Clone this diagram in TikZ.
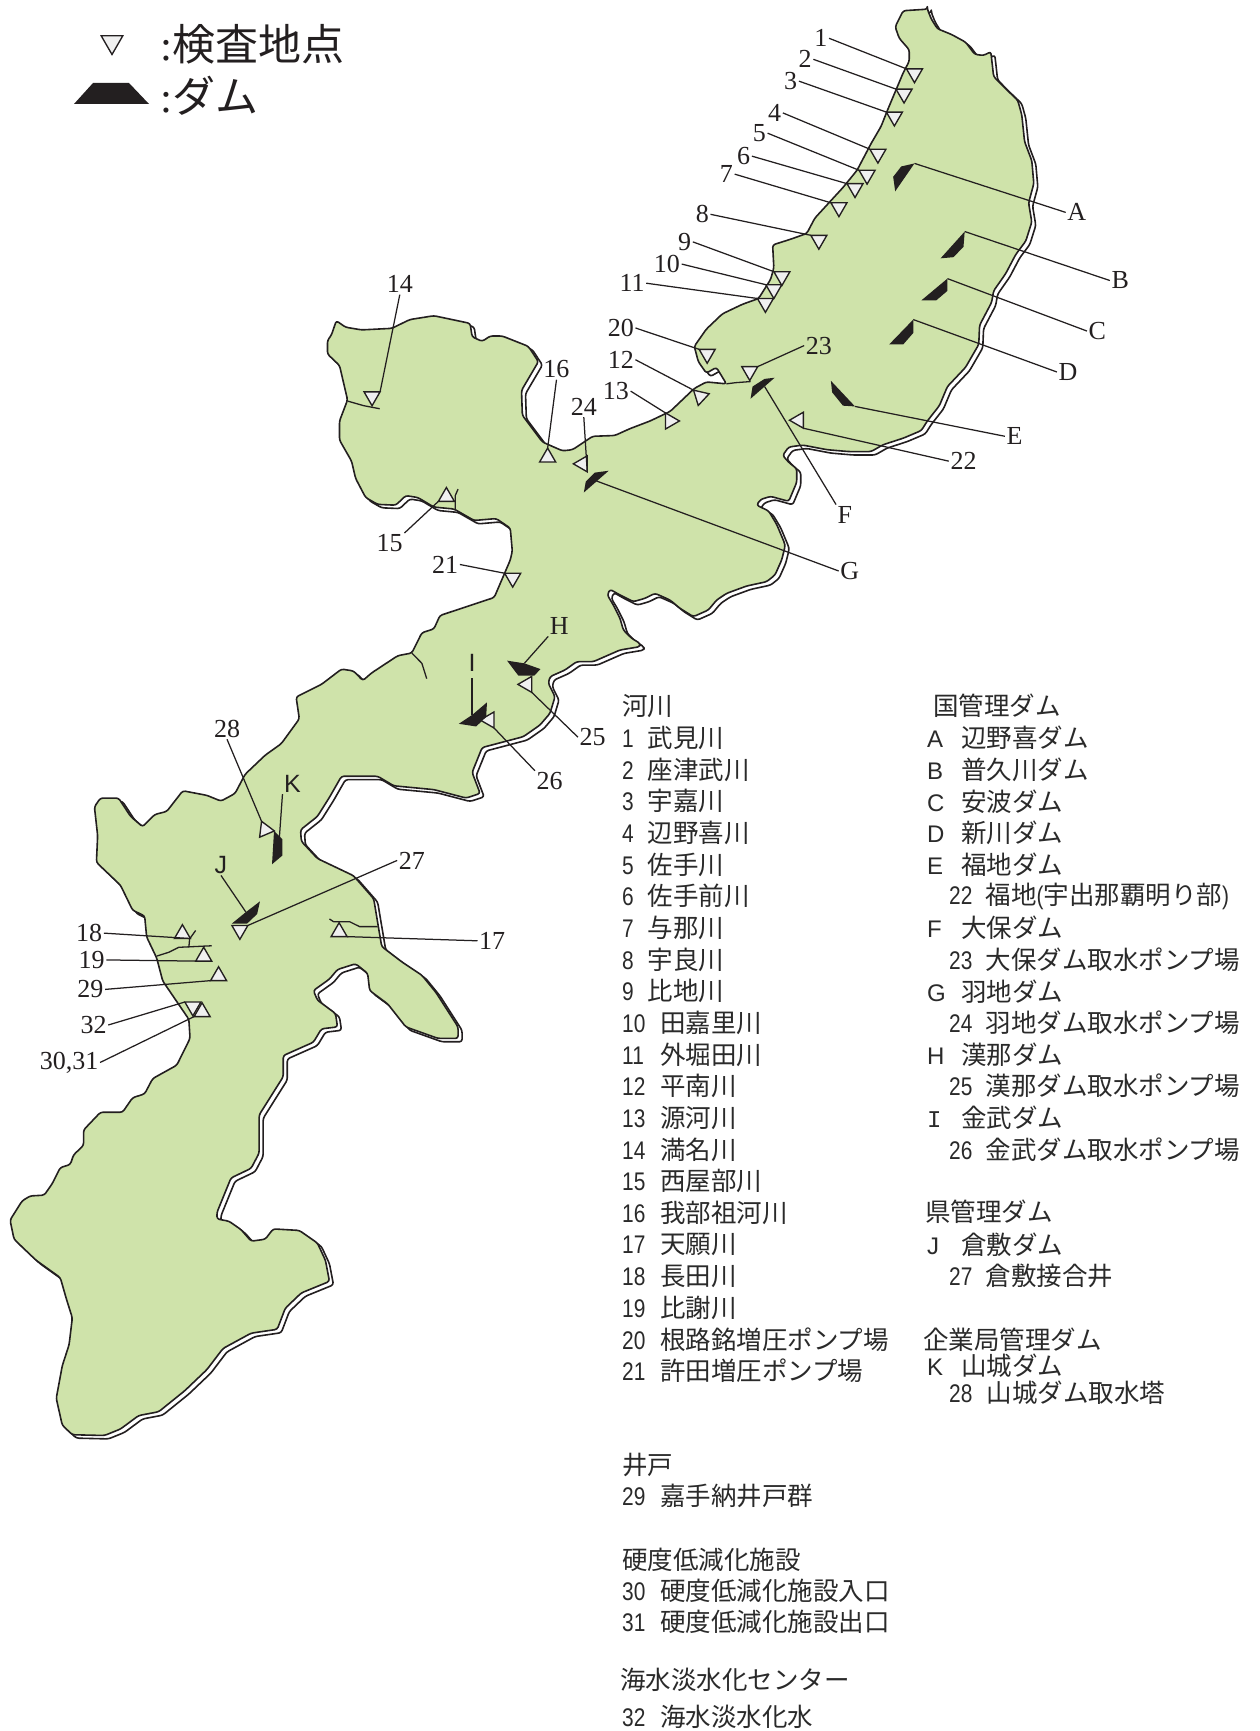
\documentclass[tikz,border=0pt]{standalone}
\usepackage{fontspec}
\usetikzlibrary{shapes.geometric}
\setmainfont{Liberation Serif}
\newfontfamily\jp{Noto Sans CJK JP}
\newfontfamily\numf[FakeStretch=0.82]{Liberation Sans}
\newfontfamily\latf{Liberation Sans}
\newfontfamily\monof{Liberation Mono}
\definecolor{ink}{HTML}{231F20}
\definecolor{land}{HTML}{CFE3AA}
\definecolor{listink}{HTML}{2A2A2A}
% coast sections, in the coordinates of the crops
\def\secE{740/24,750/50,765/75,800/90,835/110,858/142,880/145,898/135,905/200,935/232,965/262,975/300,982/370,1000/420,1005/480,992/530,1000/580,985/630,960/665,935/715,905/760,900/790,870/850,868/900,835/960,790/1010,770/1060,740/1100,725/1125,680/1145,630/1162,600/1180,545/1180,490/1175,430/1163,395/1168,380/1190,395/1208,415/1225,415/1260,395/1310,350/1297,325/1305,315/1320,345/1335,365/1370,385/1420}
\def\secM{855/200,845/240,825/285,800/305,740/318,680/340,650/360,625/390,580/410,540/385,510/360,465/340,435/355,400/365,360/345,330/328,322/345,340/375,360/415,370/450,395/475,420/490,420/500,360/510,280/545,230/545,195/570,150/590,145/610,165/650,150/700,120/735,70/770}
\def\secS{1200/490,1175/555,1195/610,1160/622,1080/600,980/590,940/565,850/565,820/620,790/670,748/705,750/735,790/780,880/825,930/885,950/1010,1000/1050,1050/1085,1085/1130,1140/1220,1140/1250,1090/1250,1010/1220,965/1160,920/1125,915/1080,885/1055,840/1070,820/1095,780/1125,790/1150,835/1185,840/1220,800/1225,780/1260,705/1295,705/1350,645/1450}
\def\secB{645/0,645/60,625/100,575/125,540/215,540/232,570/238,600/260,625/290,660/285,680/258,745/262,790/295,810/340,820/395,750/425,710/465,690/520,625/530,555/570,515/625,460/680,395/735,345/745,300/780,260/797,180/795,155/770,140/700,155/615,172/560,180/490,165/440,150/385,90/340,35/285,25/235,55/185,75/172,110/170,130/140,150/98,175/90,183/65,208/40,208/0}
\def\secW{250/1443,305/1443,330/1405,360/1395,380/1355,440/1320,473/1250,470/1200,405/1100,390/1040,365/985,360/930,330/915,300/850,240/790,243/720,235/645,250/622,295/622,325/670,355/697,385/665,415/657,455/603,515/615,550/630,585/610,610/560,660/510,700/480,745/415,737/358,800/325,850/285,880/290,903/315,925/295,990/250,1025/243,1050/190,1080/180,1095/145,1230/98,1270/0}
\def\secN{1275/1440,1270/1380,1235/1355,1180/1360,1130/1330,1080/1325,1040/1300,1010/1295,985/1320,940/1318,910/1300,885/1250,875/1205,845/1150,845/1100,865/1045,845/955,815/925,815/890,825/875,837/838,860/855,900/862,975/858,1020/835,1080/825,1170/845,1175/880,1200/892,1220/878,1250/878,1315/905,1340/945,1298/1020,1300/1085,1350/1155,1400/1178,1425/1175,1475/1140,1530/1138}
\def\secT{0/1120,50/1100,100/1075,160/1015,190/998,240/1003,215/960,190/975,170/945,160/905,190/860,230/820,280/795,320/780,350/730,358/700,355/640,400/625,440/610,460/570,495/530,530/490,565/445,600/375,625/330,640/290,660/240,680/190,695/160,695/130,670/100,660/70,680/28}
\newcommand\coast{%
 ({630+740*0.4018},{24*0.3827})
 \foreach \a/\b in \secE { -- ({630+\a*0.4018},{\b*0.3827}) }
 \foreach \a/\b in \secM { -- ({500+\a/3},{480+\b/3}) }
 \foreach \a/\b in \secS { -- ({\a*0.4018},{560+\b*0.3827}) }
 \foreach \a/\b in \secB { -- ({\a*0.4018},{1130+\b*0.3833}) }
 \foreach \a/\b in \secW { -- ({\a*0.4018},{560+\b*0.3827}) }
 \foreach \a/\b in \secN { -- ({\a*0.4018},{\b*0.3827}) }
 \foreach \a/\b in \secT { -- ({630+\a*0.4018},{\b*0.3827}) }
}
\tikzset{
 zA/.style={shift={(0,0)},x=0.4018pt,y=-0.3827pt},
 zB/.style={shift={(630,0)},x=0.4018pt,y=-0.3827pt},
 zC/.style={shift={(0,560)},x=0.4018pt,y=-0.3827pt},
 shore/.style={draw=ink,line width=1.6pt,line join=round,rounded corners=2.5pt},
 river/.style={draw=ink,line width=1.3pt,line join=round},
 lead/.style={draw=ink,line width=1.25pt},
 dam/.style={fill=ink},
 tri/.style={shape=regular polygon,regular polygon sides=3,minimum size=18.5pt,inner sep=0pt,outer sep=0pt,draw=ink,fill=black!6,line width=1.35pt},
 tridown/.style={tri,shape border rotate=180},
 trileft/.style={tri,shape border rotate=90},
 lbl/.style={font=\fontsize{26}{26}\selectfont,text=ink,inner sep=1.5pt},
 slbl/.style={font=\latf\fontsize{25}{25}\selectfont,text=ink,inner sep=1.5pt},
 big/.style={font=\fontsize{43}{43}\selectfont,text=ink,inner sep=0pt,anchor=west},
 item/.style={font=\jp\fontsize{25.5}{25.5}\selectfont,text=listink,inner sep=0pt,anchor=west},
}
\newcommand\nm[2]{\makebox[#1pt][l]{\numf #2\ }}
\begin{document}
\begin{tikzpicture}[x=1pt,y=-1pt]
\useasboundingbox (0,0) rectangle (1260,1731);
% legend
\node[tridown,minimum size=25pt] (legtri) at (112,42) {};
\fill[dam] (74,104) -- (149,104) -- (129,83) -- (93,83) -- cycle;
\node[big] (leg1) at (160,44) {:{\jp 検査地点}};
\node[big] (leg2) at (160,96) {:{\jp ダム}};
% land
\draw[shore,fill=white,shift={(4,3.4)}] \coast -- cycle;
\draw[shore,fill=land] \coast -- cycle;
% rivers, dams, markers, labels
\begin{scope}[zA]
 \draw[river] (865,1048) -- (905,1060) -- (945,1068);
 \draw[river] (1133,1330) -- (1133,1295) -- (1140,1278);
 \node[trileft] (m24) at (1450,1212) {};
 \node[tri] (m16) at (1363,1195) {};
 \node[tridown] (m14) at (926,1036) {};
 \node[tri] (m15) at (1111,1298) {};
 \node[tridown] (m21) at (1276,1510) {};
 \coordinate (dG) at (1480,1255);
 \fill[dam] (1515,1230) -- (1480,1235) -- (1458,1258) -- (1453,1287) -- cycle;
 \node[lbl] (l14) at (995,743) {14};
 \node[lbl] (l15) at (970,1420) {15};
 \node[lbl] (l16) at (1385,965) {16};
 \node[lbl] (l20) at (1545,857) {20};
 \node[lbl] (l12) at (1545,940) {12};
 \node[lbl] (l13) at (1533,1022) {13};
 \node[lbl] (l24) at (1453,1063) {24};
 \node[lbl] (l21) at (1108,1475) {21};
\end{scope}
\begin{scope}[zB]
 \draw[river] (240,1003) -- (262,1000) -- (300,997);
 \node[tridown] (m1) at (708,192) {};
 \node[tridown] (m2) at (682,245) {};
 \node[tridown] (m3) at (658,305) {};
 \node[tridown] (m4) at (617,402) {};
 \node[tridown] (m5) at (590,457) {};
 \node[tridown] (m6) at (560,492) {};
 \node[tridown] (m7) at (520,542) {};
 \node[tridown] (m8) at (470,627) {};
 \node[tridown] (m9) at (378,722) {};
 \node[tridown] (m10) at (358,756) {};
 \node[tridown] (m11) at (337,792) {};
 \node[tridown] (m20) at (192,925) {};
 \node[tridown] (m23) at (298,970) {};
 \node[tri,shape border rotate=167] (m12) at (175,1036) {};
 \node[tri,shape border rotate=-90] (m13) at (100,1100) {};
 \node[trileft] (m22) at (420,1098) {};
 \coordinate (dA) at (708,427);
 \coordinate (dB) at (833,605);
 \coordinate (dC) at (790,728);
 \coordinate (dD) at (705,835);
 \coordinate (dE) at (560,1062);
 \coordinate (dF) at (335,1010);
 \fill[dam] (dA) -- (675,435) -- (655,462) -- (660,500) -- cycle;
 \fill[dam] (dB) -- (830,645) -- (805,672) -- (773,675) -- cycle;
 \fill[dam] (dC) -- (790,760) -- (762,785) -- (725,785) -- cycle;
 \fill[dam] (dD) -- (705,870) -- (680,900) -- (645,900) -- cycle;
 \fill[dam] (500,995) -- (503,1025) -- (530,1060) -- (dE) -- cycle;
 \fill[dam] (360,987) -- (335,990) -- (305,1010) -- (300,1042) -- cycle;
 \node[lbl] (l1) at (475,100) {1};
 \node[lbl] (l2) at (436,155) {2};
 \node[lbl] (l3) at (400,212) {3};
 \node[lbl] (l4) at (360,295) {4};
 \node[lbl] (l5) at (322,348) {5};
 \node[lbl] (l6) at (283,408) {6};
 \node[lbl] (l7) at (240,455) {7};
 \node[lbl] (l8) at (180,560) {8};
 \node[lbl] (l9) at (136,632) {9};
 \node[lbl] (l10) at (92,690) {10};
 \node[lbl] (l11) at (5,740) {11};
 \node[lbl] (l22) at (830,1205) {22};
 \node[lbl] (l23) at (470,903) {23};
 \node[lbl] (lA) at (1112,555) {A};
 \node[lbl] (lB) at (1220,733) {B};
 \node[lbl] (lC) at (1163,865) {C};
 \node[lbl] (lD) at (1090,972) {D};
 \node[lbl] (lE) at (957,1140) {E};
 \node[lbl] (lF) at (535,1345) {F};
 \node[lbl] (lG) at (547,1492) {G};
\end{scope}
\begin{scope}[zC]
 \draw[river] (1025,243) -- (1050,270) -- (1062,310);
 \draw[river] (820,938) -- (830,945) -- (870,945) -- (895,958) -- (940,958);
 \draw[river] (487,968) -- (472,990) -- (470,1012);
 \draw[river] (390,1035) -- (420,1025) -- (445,1012) -- (527,1008);
 \node[trileft] (m25) at (1312,325) {};
 \node[trileft] (m26) at (1218,418) {};
 \node[tri,shape border rotate=143] (m28) at (660,705) {};
 \node[tridown] (m27) at (597,967) {};
 \node[tri] (m18) at (454,977) {};
 \node[tri] (m19) at (507,1036) {};
 \node[tri] (m29) at (544,1087) {};
 \node[tridown] (m32) at (480,1167) {};
 \node[tri] (m30) at (503,1181) {};
 \node[tri] (m17) at (844,972) {};
 \coordinate (dH) at (1305,270);
 \coordinate (dI) at (1175,405);
 \coordinate (dJ) at (612,920);
 \coordinate (dK) at (695,730);
 \fill[dam] (1262,263) -- (dH) -- (1345,285) -- (1330,302) -- (1290,302) -- cycle;
 \fill[dam] (1212,372) -- (1210,410) -- (1185,435) -- (1142,428) -- (dI) -- cycle;
 \fill[dam] (647,892) -- (640,925) -- (615,950) -- (577,950) -- (dJ) -- cycle;
 \fill[dam] (682,708) -- (703,730) -- (703,772) -- (677,795) -- cycle;
 \node[lbl] (l25) at (1475,463) {25};
 \node[lbl] (l26) at (1368,578) {26};
 \node[lbl] (l28) at (565,441) {28};
 \node[lbl] (l27) at (1025,785) {27};
 \node[lbl] (l17) at (1225,995) {17};
 \node[lbl] (l18) at (222,975) {18};
 \node[lbl] (l19) at (228,1045) {19};
 \node[lbl] (l29) at (225,1122) {29};
 \node[lbl] (l32) at (233,1215) {32};
 \node[lbl] (l30) at (172,1313) {30,31};
 \node[lbl] (lH) at (1392,173) {H};
 \node[slbl,inner sep=6pt] (lI) at (1175,270) {I};
 \node[slbl] (lJ) at (550,797) {J};
 \node[slbl] (lK) at (728,585) {K};
\end{scope}
% leaders
\draw[lead] (l1.east) -- (m1.corner 3);
\draw[lead] (l2.east) -- (m2.corner 3);
\draw[lead] (l3.east) -- (m3.corner 3);
\draw[lead] (l4.east) -- (m4.corner 3);
\draw[lead] (l5.east) -- (m5.corner 3);
\draw[lead] (l6.east) -- (m6.corner 3);
\draw[lead] (l7.east) -- (m7.corner 3);
\draw[lead] (l8.east) -- (m8.corner 3);
\draw[lead] (l9.east) -- (m9.corner 3);
\draw[lead] (l10.east) -- (m10.corner 3);
\draw[lead] (l11.east) -- (m11.corner 3);
\draw[lead] (l20.east) -- (m20.corner 3);
\draw[lead] (l12.east) -- (m12.corner 3);
\draw[lead] (l13.east) -- (m13.corner 2);
\draw[lead] (l14.south) -- (m14.corner 2);
\draw[lead] (l15.north east) -- (m15.corner 2);
\draw[lead] (l16.south) -- (m16.corner 1);
\draw[lead] (l21.east) -- (m21.corner 3);
\draw[lead] (l22.west) -- (m22.corner 2);
\draw[lead] (l23.west) -- (m23.corner 2);
\draw[lead] (l24.south) -- (m24.corner 2);
\draw[lead] (l25.west) -- (m25.corner 2);
\draw[lead] (l26.north west) -- (m26.corner 2);
\draw[lead] (l27.west) -- (m27.corner 2);
\draw[lead] (l28.south) -- (m28.corner 3);
\draw[lead] (l17.west) -- (m17.corner 3);
\draw[lead] (l18.east) -- (m18.corner 3);
\draw[lead] (l19.east) -- (m19.corner 2);
\draw[lead] (l29.east) -- (m29.corner 2);
\draw[lead] (l32.east) -- (m32.corner 3);
\draw[lead] (l30.east) -- (m30.corner 2);
\draw[lead] (dA) -- (lA.west);
\draw[lead] (dB) -- (lB.west);
\draw[lead] (dC) -- (lC.west);
\draw[lead] (dD) -- (lD.west);
\draw[lead] (dE) -- (lE.west);
\draw[lead] (dF) -- (lF.north west);
\draw[lead] (dG) -- (lG.west);
\draw[lead] (dH) -- (lH.south west);
\draw[lead] (dI) -- (lI.south);
\draw[lead] (dJ) -- (lJ.south);
\draw[lead] (dK) -- (lK.south west);
% river list
\node[item] (hR) at (622,706) {河川};
\foreach \n/\w/\t [count=\i] in {1/25.5/武見川,2/25.5/座津武川,3/25.5/宇嘉川,4/25.5/辺野喜川,5/25.5/佐手川,6/25.5/佐手前川,7/25.5/与那川,8/25.5/宇良川,9/25.5/比地川,10/38/田嘉里川,11/38/外堀田川,12/38/平南川,13/38/源河川,14/38/満名川,15/38/西屋部川,16/38/我部祖河川,17/38/天願川,18/38/長田川,19/38/比謝川,20/38/根路銘増圧ポンプ場,21/38/許田増圧ポンプ場}
 \node[item] (r\n) at (622,{738+(\i-1)*31.65}) {\nm{\w}{\n}\t};
% dam list
\node[item] (hK) at (933,706) {国管理ダム};
\newcommand\dl[3]{\node[item] (r#1) at (927,{738+(#3-1)*31.65}) {\makebox[34pt][l]{\latf\fontsize{24}{24}\selectfont #1\ }#2};}
\newcommand\pl[3]{\node[item] (r#1) at (949,{738+(#3-1)*31.65}) {\nm{36.5}{#1}#2};}
\dl{A}{辺野喜ダム}{1}
\dl{B}{普久川ダム}{2}
\dl{C}{安波ダム}{3}
\dl{D}{新川ダム}{4}
\dl{E}{福地ダム}{5}
\pl{22}{福地{\numf(}宇出那覇明り部{\numf)}}{6}
\dl{F}{大保ダム}{7}
\pl{23}{大保ダム取水ポンプ場}{8}
\dl{G}{羽地ダム}{9}
\pl{24}{羽地ダム取水ポンプ場}{10}
\dl{H}{漢那ダム}{11}
\pl{25}{漢那ダム取水ポンプ場}{12}
\node[item] (rI) at (927,{738+12*31.65}) {\makebox[34pt][l]{\monof\fontsize{24}{24}\selectfont I\ }金武ダム};
\pl{26}{金武ダム取水ポンプ場}{14}
\node[item] (hP) at (925,1212) {県管理ダム};
\dl{J}{倉敷ダム}{17}
\pl{27}{倉敷接合井}{18}
\node[item] (hE) at (923,1340) {企業局管理ダム};
\node[item] (rK) at (927,1366) {\makebox[34pt][l]{\latf\fontsize{24}{24}\selectfont K\ }山城ダム};
\node[item] (r28) at (949,1392.6) {\nm{37.5}{28}山城ダム取水塔};
% other lists
\node[item] (hW) at (622,1464.6) {井戸};
\node[item] (r29) at (622,1496) {\nm{38}{29}嘉手納井戸群};
\node[item] (hH) at (622,1559.5) {硬度低減化施設};
\node[item] (r30) at (622,1591) {\nm{38}{30}硬度低減化施設入口};
\node[item] (r31) at (622,1622) {\nm{38}{31}硬度低減化施設出口};
\node[item] (hS) at (620,1680) {海水淡水化センター};
\node[item] (r32) at (622,1717) {\nm{38}{32}海水淡水化水};
\end{tikzpicture}
\end{document}
